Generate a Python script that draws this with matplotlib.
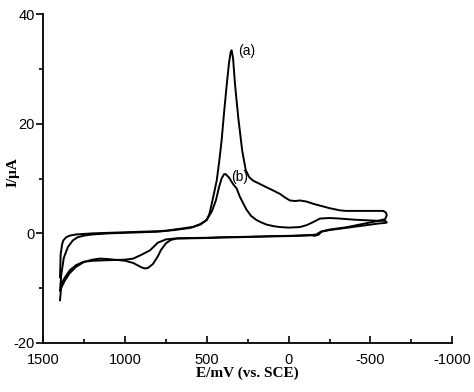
"""Cyclic voltammograms (a) and (b), E/mV vs. SCE."""

import matplotlib
matplotlib.use('Agg')
import matplotlib.pyplot as plt
from matplotlib.ticker import MultipleLocator

# curve (a): forward sweep 1400 -> -600 mV, then back to 1400 mV
E_a = [1398, 1394, 1385, 1378, 1360, 1337, 1300, 1200, 1100, 1000, 900, 800, 746, 700, 650,
       583, 540, 502, 485, 471, 455, 440, 425, 410, 395, 379, 365, 355, 349, 340, 328, 308,
       284, 262, 240, 216, 155, 100, 53, 20, -8, -40, -69, -110, -150, -200, -250, -313,
       -350, -450, -578, -595, -600,
       -590, -550, -500, -450, -400, -350, -300, -250, -200, -185, -170, -140, -50, 0, 100,
       200, 300, 400, 500, 600, 680, 720, 750, 780, 800, 830, 860, 878, 900, 950, 1000,
       1031, 1100, 1153, 1200, 1250, 1300, 1340, 1370, 1390, 1398]
I_a = [-8.0, -3.8, -2.0, -1.3, -0.7, -0.4, -0.2, 0.0, 0.1, 0.2, 0.3, 0.4, 0.5, 0.7, 0.9,
       1.2, 1.7, 2.4, 3.5, 5.3, 7.5, 9.6, 13.0, 16.9, 22.0, 27.0, 31.0, 33.0, 33.4, 32.0,
       27.2, 21.1, 15.1, 11.5, 10.2, 9.6, 8.7, 7.9, 7.2, 6.5, 6.0, 5.9, 6.0, 5.8, 5.4, 5.0,
       4.6, 4.2, 4.1, 4.1, 4.1, 3.8, 3.3,
       2.6, 2.3, 2.0, 1.7, 1.4, 1.1, 0.9, 0.7, 0.35, 0.1, -0.2, -0.3, -0.4, -0.45, -0.5,
       -0.6, -0.65, -0.7, -0.8, -0.85, -0.9, -1.2, -1.8, -3.0, -4.2, -5.6, -6.3, -6.4,
       -6.2, -5.4, -5.0, -4.9, -4.7, -4.6, -4.8, -5.2, -6.1, -7.3, -8.7, -9.9, -10.4]

# curve (b)
E_b = [1398, 1390, 1375, 1350, 1320, 1290, 1250, 1200, 1100, 1000, 800, 700, 600, 540,
       500, 470, 445, 425, 410, 395, 385, 365, 340, 318, 300, 280, 257, 230, 200, 175, 135,
       90, 53, 0, -69, -110, -150, -191, -250, -313, -400, -538, -590, -600,
       -590, -550, -500, -450, -400, -350, -300, -250, -200, -185, -160, -140, -50, 0, 100,
       200, 300, 400, 500, 600, 700, 750, 800, 848, 900, 950, 1000, 1112, 1200, 1255, 1300,
       1337, 1365, 1388, 1393, 1398]
I_b = [-10.4, -7.5, -4.5, -2.5, -1.3, -0.7, -0.4, -0.2, 0.0, 0.1, 0.3, 0.6, 1.0, 1.6,
       2.5, 4.0, 6.0, 8.5, 10.0, 10.8, 10.8, 10.2, 9.0, 8.2, 6.8, 5.6, 4.3, 3.2, 2.5, 2.1,
       1.6, 1.3, 1.15, 1.05, 1.15, 1.5, 2.05, 2.7, 2.8, 2.7, 2.5, 2.3, 2.3, 2.0,
       1.9, 1.8, 1.6, 1.4, 1.2, 1.0, 0.8, 0.6, 0.3, -0.2, -0.45, -0.35, -0.45, -0.5, -0.55,
       -0.6, -0.7, -0.75, -0.85, -0.9, -0.95, -1.1, -1.7, -3.1, -3.9, -4.6, -4.8, -4.9,
       -5.0, -5.2, -5.8, -6.7, -7.9, -9.1, -10.5, -12.2]

labels = ['(a)', '(b)']
label_pos = [(255, 33.3), (298, 10.2)]

plt.rcParams['axes.unicode_minus'] = False

fig = plt.figure(figsize=(4.74, 3.92), dpi=100)
ax = fig.add_axes([0.0914, 0.125, 0.8626, 0.839])

for E, I in [(E_a, I_a), (E_b, I_b)]:
    ax.plot(E, I, color='black', linewidth=1.4)

for txt, (x, y) in zip(labels, label_pos):
    ax.text(x, y, txt, fontsize=10, family='Liberation Sans', ha='center', va='center')

ax.set_xlim(1500, -1000)
ax.set_ylim(-20, 40)
ax.xaxis.set_major_locator(MultipleLocator(500))
ax.xaxis.set_minor_locator(MultipleLocator(250))
ax.yaxis.set_major_locator(MultipleLocator(20))
ax.yaxis.set_minor_locator(MultipleLocator(10))

for side in ['top', 'right']:
    ax.spines[side].set_visible(False)
for side in ['left', 'bottom']:
    ax.spines[side].set_linewidth(1.3)

ax.tick_params(axis='x', which='both', direction='in', width=1.2, labelsize=10.5, pad=7)
ax.tick_params(axis='x', which='major', length=5)
ax.tick_params(axis='x', which='minor', length=3)
ax.tick_params(axis='y', which='both', direction='out', width=1.2, labelsize=10.5, pad=1)
ax.tick_params(axis='y', which='major', length=5)
ax.tick_params(axis='y', which='minor', length=3)
for lab in ax.get_xticklabels() + ax.get_yticklabels():
    lab.set_family('Liberation Sans')

ax.set_xlabel('E/mV (vs. SCE)', fontsize=11, fontweight='bold', family='Liberation Serif')
ax.set_ylabel('I/μA', fontsize=11, fontweight='bold', family='Liberation Serif')
ax.xaxis.set_label_coords(0.5, -0.073)
ax.yaxis.set_label_coords(-0.057, 0.52)

fig.savefig('out.png', dpi=100)
